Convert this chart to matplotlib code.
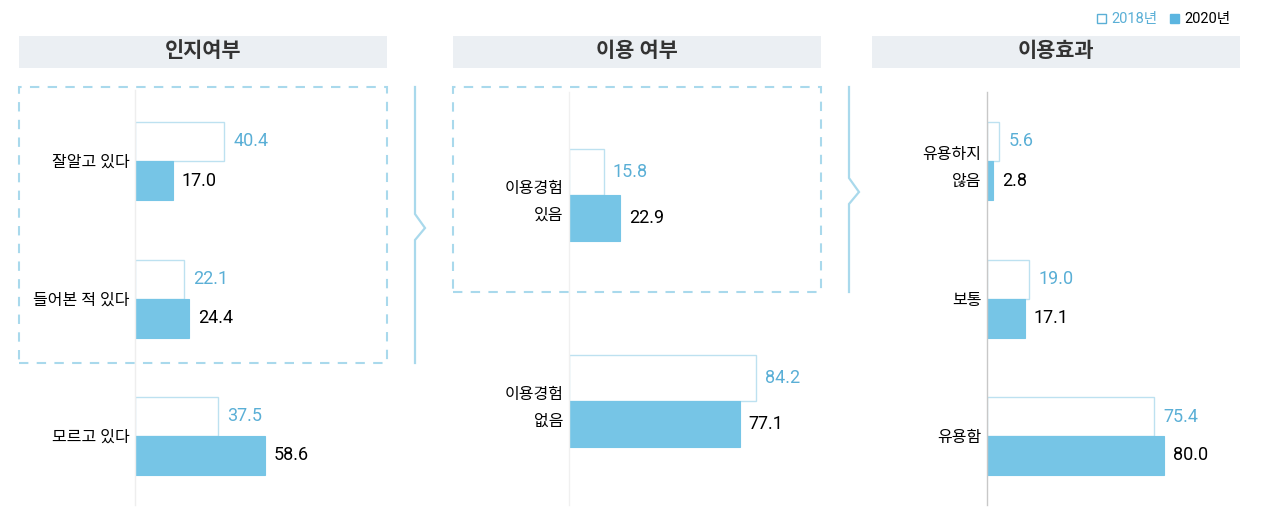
import matplotlib
matplotlib.use("Agg")
import matplotlib.pyplot as plt
from matplotlib.patches import Rectangle
from matplotlib.lines import Line2D

plt.rcParams['font.family'] = ['Roboto', 'Noto Sans CJK KR', 'DejaVu Sans']

# ---------------- data ----------------
titles = ['인지여부', '이용 여부', '이용효과']
series_names = ['2018년', '2020년']

awareness_cats = ['잘알고 있다', '들어본 적 있다', '모르고 있다']
awareness_2018 = [40.4, 22.1, 37.5]
awareness_2020 = [17.0, 24.4, 58.6]

usage_cats = ['이용경험\n있음', '이용경험\n없음']
usage_2018 = [15.8, 84.2]
usage_2020 = [22.9, 77.1]

effect_cats = ['유용하지\n않음', '보통', '유용함']
effect_2018 = [5.6, 19.0, 75.4]
effect_2020 = [2.8, 17.1, 80.0]

# ---------------- style ----------------
W, H = 1267, 512
C20 = '#76C5E6'
C18_EDGE = '#BDE1F0'
C18_TEXT = '#5AAFD6'
HEADER = '#EBEFF3'
DASH = '#A9D9EC'
PX_PER_UNIT = 2.215

fig = plt.figure(figsize=(W / 100, H / 100), dpi=100)


def fx(x):
    return x / W


def fy(y):
    return 1 - y / H


def panel(left, top, bottom, first_c, spacing, bar_px, cats, v18, v20, spine_col, lsp):
    width_px = 270
    ax = fig.add_axes([fx(left), fy(bottom), width_px / W, (bottom - top) / H])
    ax.patch.set_visible(False)
    n = len(cats)
    h = bar_px / spacing
    pos = list(range(n))
    ax.barh([p - h / 2 for p in pos], v18, height=h, color='white',
            edgecolor=C18_EDGE, linewidth=1.0, zorder=2)
    ax.barh([p + h / 2 for p in pos], v20, height=h, color=C20,
            edgecolor=C20, linewidth=0.8, zorder=2)
    off = 9 / PX_PER_UNIT
    for p, a, b in zip(pos, v18, v20):
        ax.text(a + off, p - h / 2, f'{a:.1f}', va='center', ha='left',
                fontsize=13, color=C18_TEXT)
        ax.text(b + off, p + h / 2, f'{b:.1f}', va='center', ha='left',
                fontsize=13, color='black')
    ax.set_xlim(0, width_px / PX_PER_UNIT)
    ax.set_ylim((n - 1) + (bottom - (first_c + (n - 1) * spacing)) / spacing,
                -(first_c - top) / spacing)
    ax.set_yticks(pos)
    ax.set_yticklabels(cats, fontsize=11.5)
    for t in ax.get_yticklabels():
        t.set_linespacing(lsp)
    ax.tick_params(axis='y', length=0, pad=4, colors='black')
    ax.set_xticks([])
    for s in ['top', 'right', 'bottom']:
        ax.spines[s].set_visible(False)
    ax.spines['left'].set_color(spine_col)
    ax.spines['left'].set_linewidth(1.0)
    return ax


panel(135, 90, 505, 161, 137.5, 39, awareness_cats, awareness_2018, awareness_2020, '#EEEEEE', 1.6)
panel(569, 92, 505, 195, 206, 46, usage_cats, usage_2018, usage_2020, '#F0F0F0', 1.95)
panel(987, 92, 505, 161, 137.5, 39, effect_cats, effect_2018, effect_2020, '#C8C8C8', 1.95)

# headers
for (x0, x1), t in zip([(19, 387), (453, 821), (872, 1240)], titles):
    fig.add_artist(Rectangle((fx(x0), fy(68)), (x1 - x0) / W, 32 / H,
                             transform=fig.transFigure, facecolor=HEADER,
                             edgecolor='none', zorder=0))
    fig.text(fx((x0 + x1) / 2), fy(51), t, ha='center', va='center',
             fontsize=15, fontweight='bold', color='#333333')

# dashed boxes
for x0, x1, y0, y1 in [(19, 387, 87, 363), (453, 821, 87, 292)]:
    fig.add_artist(Rectangle((fx(x0), fy(y1)), (x1 - x0) / W, (y1 - y0) / H,
                             transform=fig.transFigure, facecolor='none',
                             edgecolor=DASH, linewidth=1.5,
                             linestyle=(0, (4.5, 4)), zorder=1))

# connector lines with chevrons
for x, y0, y1, ym in [(415, 87, 363, 228), (849, 87, 292, 192)]:
    xs = [x, x, x + 10, x, x]
    ys = [y0, ym - 14, ym, ym + 12, y1]
    fig.add_artist(Line2D([fx(v) for v in xs], [fy(v) for v in ys],
                          transform=fig.transFigure, color=DASH,
                          linewidth=1.6, solid_joinstyle='miter'))

# legend
fig.add_artist(Rectangle((fx(1097), fy(23)), 9 / W, 9 / H, transform=fig.transFigure,
                         facecolor='white', edgecolor=C18_TEXT, linewidth=1.0))
fig.text(fx(1111), fy(18.5), series_names[0], ha='left', va='center',
         fontsize=10.5, color=C18_TEXT)
fig.add_artist(Rectangle((fx(1170), fy(23)), 9 / W, 9 / H, transform=fig.transFigure,
                         facecolor='#5BB5E0', edgecolor='#5BB5E0', linewidth=1.0))
fig.text(fx(1184), fy(18.5), series_names[1], ha='left', va='center',
         fontsize=10.5, color='black')

fig.savefig('out.png', dpi=100)
